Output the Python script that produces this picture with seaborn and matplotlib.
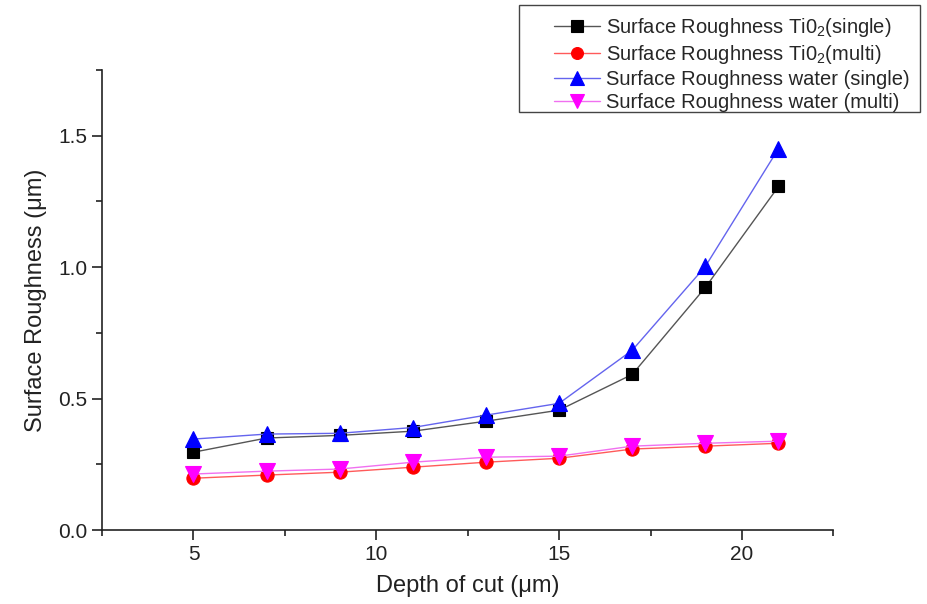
import matplotlib
matplotlib.use("Agg")
import matplotlib.pyplot as plt
import seaborn as sns
import pandas as pd
from matplotlib.ticker import MultipleLocator
from matplotlib.patches import Rectangle

depth = [5, 7, 9, 11, 13, 15, 17, 19, 21]
tio2_single = [0.296, 0.350, 0.360, 0.376, 0.414, 0.456, 0.592, 0.923, 1.307]
tio2_multi = [0.197, 0.209, 0.220, 0.239, 0.258, 0.273, 0.308, 0.319, 0.330]
water_single = [0.346, 0.365, 0.368, 0.390, 0.437, 0.482, 0.684, 1.003, 1.451]
water_multi = [0.213, 0.224, 0.232, 0.258, 0.277, 0.281, 0.319, 0.330, 0.338]

names = [
    "Surface Roughness Ti0$_2$(single)",
    "Surface Roughness Ti0$_2$(multi)",
    "Surface Roughness water (single)",
    "Surface Roughness water (multi)",
]
series = [tio2_single, tio2_multi, water_single, water_multi]
colors = ["#000000", "#ff0000", "#0000ff", "#ff00ff"]
line_colors = ["#555555", "#ff5a5a", "#6464ee", "#f070f0"]
markers = ["s", "o", "^", "v"]
msizes = [9, 9.5, 11, 11]

rows = []
for n, vals in zip(names, series):
    for d, v in zip(depth, vals):
        rows.append({"depth": d, "roughness": v, "series": n})
df = pd.DataFrame(rows)

sns.set_style("ticks")
plt.rcParams["font.family"] = ["Liberation Sans", "DejaVu Sans"]
plt.rcParams["mathtext.fontset"] = "custom"
plt.rcParams["mathtext.rm"] = "Liberation Sans"
plt.rcParams["mathtext.it"] = "Liberation Sans"

fig = plt.figure(figsize=(9.28, 6.04), dpi=100)
ax = fig.add_axes([0.110, 0.1225, 0.788, 0.7615])

sns.lineplot(
    data=df, x="depth", y="roughness", hue="series", style="series",
    hue_order=names, style_order=names,
    palette=dict(zip(names, colors)), markers=dict(zip(names, markers)),
    dashes=False, linewidth=1.0, markersize=9, markeredgewidth=0.8,
    ax=ax, legend=True,
)
handles, labels = ax.get_legend_handles_labels()
ax.get_legend().remove()

def restyle(artists, scale=1.0):
    for line, c, lc, ms in zip(artists, colors, line_colors, msizes):
        line.set_color(lc)
        line.set_linewidth(1.0)
        line.set_markerfacecolor(c)
        line.set_markeredgecolor(c)
        line.set_markersize(ms * scale)

restyle(ax.lines[:4])
restyle(handles, 0.9)

ax.set_xlim(2.5, 22.5)
ax.set_ylim(0, 1.75)
ax.xaxis.set_minor_locator(MultipleLocator(2.5))
ax.yaxis.set_minor_locator(MultipleLocator(0.25))
ax.set_xticks([5, 10, 15, 20])
ax.set_yticks([0.0, 0.5, 1.0, 1.5])
ax.set_yticklabels(["0.0", "0.5", "1.0", "1.5"])
ax.tick_params(axis="both", which="major", length=7, width=1.2, labelsize=15, colors="#222222", direction="out")
ax.tick_params(axis="both", which="minor", length=4, width=1.2, direction="out", colors="#222222")
ax.spines["top"].set_visible(False)
ax.spines["right"].set_visible(False)
for s in ["left", "bottom"]:
    ax.spines[s].set_linewidth(1.2)
    ax.spines[s].set_color("#222222")

ax.set_xlabel("Depth of cut (\u03bcm)", fontsize=17, color="#222222", labelpad=8)
ax.set_ylabel("Surface Roughness (\u03bcm)", fontsize=17, color="#222222", labelpad=8)

leg = fig.legend(
    handles, labels, loc="upper right", bbox_to_anchor=(910 / 928, 1 - 16 / 604),
    fontsize=14.5, frameon=False,
    borderpad=0.0, labelspacing=0.2, handlelength=2.3, handletextpad=0.3,
    borderaxespad=0.0,
)
fig.patches.append(Rectangle((519 / 928, 1 - 112 / 604), (920 - 519) / 928, (112 - 5) / 604,
                             transform=fig.transFigure, fill=False,
                             edgecolor="#444444", linewidth=1.0))

fig.savefig("out.png", dpi=100)
